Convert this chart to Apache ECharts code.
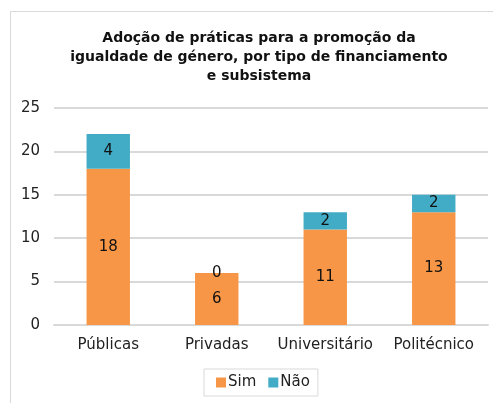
<!DOCTYPE html>
<html><head><meta charset="utf-8">
<script src="https://cdn.jsdelivr.net/npm/echarts@6/dist/echarts.min.js"></script>
<style>html,body{margin:0;padding:0;background:#fff}#c{width:493px;height:403px}</style>
</head><body><div id="c"></div>
<script>
const categories = ['Públicas', 'Privadas', 'Universitário', 'Politécnico'];
const simValues = [18, 6, 11, 13];
const naoValues = [4, 0, 2, 2];
const yTicks = {min: 0, max: 25, interval: 5};
const titleText = 'Adoção de práticas para a promoção da\nigualdade de género, por tipo de financiamento\ne subsistema';
const FONT = 'DejaVu Sans';

const chart = echarts.init(document.getElementById('c'), null, {renderer: 'canvas'});
chart.setOption({
  animation: false,
  backgroundColor: '#fff',
  textStyle: {fontFamily: FONT},
  graphic: [{
    type: 'rect', silent: true,
    shape: {x: 10.5, y: 11.5, width: 500, height: 420},
    style: {fill: 'none', stroke: '#d9d9d9', lineWidth: 1}
  }, {
    type: 'text', silent: true, x: 259, y: 29,
    style: {
      text: titleText, align: 'center', verticalAlign: 'top',
      fontFamily: FONT, fontSize: 14, fontWeight: 'bold', fill: '#111', lineHeight: 19
    }
  }],
  legend: {
    data: ['Sim', 'Não'],
    bottom: 7, left: 204,
    padding: [6, 8, 6, 12],
    borderColor: '#d9d9d9', borderWidth: 1, borderRadius: 0,
    itemWidth: 10, itemHeight: 10, itemGap: 12,
    icon: 'rect',
    textStyle: {fontFamily: FONT, fontSize: 15, color: '#222', padding: [0, 0, 0, -3]}
  },
  grid: {left: 54, right: 5, top: 108, bottom: 78, containLabel: false},
  xAxis: {
    type: 'category', data: categories,
    axisLine: {lineStyle: {color: '#d9d9d9', width: 2}},
    axisTick: {show: false},
    axisLabel: {fontFamily: FONT, fontSize: 15, color: '#222', margin: 13, interval: 0}
  },
  yAxis: {
    type: 'value', min: yTicks.min, max: yTicks.max, interval: yTicks.interval,
    axisLine: {show: false}, axisTick: {show: false},
    splitLine: {lineStyle: {color: '#d9d9d9', width: 2}},
    axisLabel: {fontFamily: FONT, fontSize: 15, color: '#222', margin: 14}
  },
  series: [
    {name: 'Sim', type: 'bar', stack: 't', data: simValues, barWidth: '40%',
     itemStyle: {color: '#F79646'},
     label: {show: true, position: 'inside', fontFamily: FONT, fontSize: 15, color: '#111'}},
    {name: 'Não', type: 'bar', stack: 't', data: naoValues, barWidth: '40%',
     itemStyle: {color: '#42ABC6'},
     label: {show: true, position: 'inside', fontFamily: FONT, fontSize: 15, color: '#111'}}
  ]
});
</script></body></html>
